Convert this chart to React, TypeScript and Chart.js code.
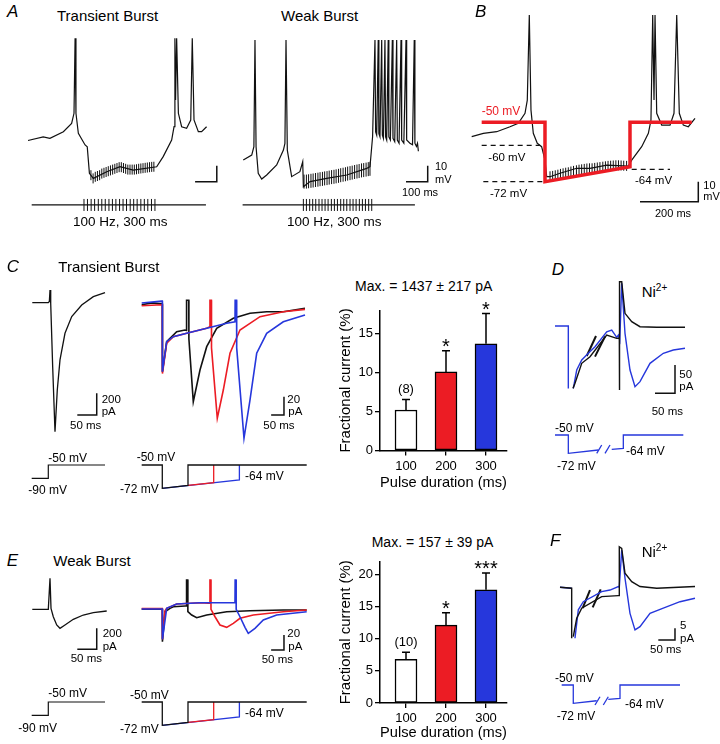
import React, { useEffect, useRef } from "react";
import { Chart, registerables } from "chart.js";
Chart.register(...registerables);

const FONT = "'Liberation Sans', Arial, Helvetica, sans-serif";
const BLACK = "#111111";
const RED = "#ec1c24";
const BLUE = "#2637dc";

// ================= Panel A (ms, mV) =================
const A_TB_TRACE = [[0,-60.3],[70,-58],[101,-59],[163,-54.8],[201,-49.6],[212,-43.3],[217,3.6],[221,-43.3],[232,-55.8],[263,-63.1],[273,-64.2],[283,-80.8],[301,-84],[363,-79.8],[424,-76.7],[485,-78.8],[593,-76.7],[623,-70.4],[662,-60],[673,-51.7],[677,3.6],[680,-35],[685,3.6],[693,-43.3],[708,-51.7],[731,-52.7],[750,-47.5],[757,3.6],[765,-47.5],[785,-54.8],[800,-54.8],[823,-51.7]];
const A_TB_ART = [[290,-82],[300,-84],[310,-83],[320,-82.5],[330,-82],[340,-81],[350,-80.5],[360,-80],[370,-79.5],[380,-79],[390,-78.5],[400,-78],[410,-77.5],[420,-77],[430,-77],[440,-77.5],[450,-78],[460,-78.5],[470,-78.5],[480,-78.5],[490,-78.5],[500,-78.3],[510,-78],[520,-77.8],[530,-77.6],[540,-77.4],[550,-77.2],[560,-77],[570,-76.8],[580,-76.7]];
const A_WB_TRACE = [[992,-72.5],[1031,-69.4],[1041,-64.2],[1046,2.5],[1051,-64.2],[1061,-80.8],[1077,-84.4],[1100,-81.9],[1146,-75.6],[1177,-66.3],[1184,-62.1],[1189,2.5],[1195,-66.3],[1215,-82.9],[1253,-79.8],[1266,-73.6],[1269,-89.2],[1300,-86],[1376,-84],[1469,-81.9],[1561,-77.7],[1576,-76.7],[1588,-58],[1599,2.5],[1602,-55],[1607,-57],[1614,2.5],[1617,-56],[1622,-58],[1630,2.5],[1633,-57],[1638,-59],[1645,2.5],[1648,-58],[1653,-60],[1660,2.5],[1663,-58],[1670,-60],[1679,2.5],[1682,-59],[1690,-61],[1699,2.5],[1702,-60],[1710,-62],[1719,2.5],[1722,-60],[1732,-62],[1742,2.5],[1745,-60],[1760,-62],[1772,-63],[1780,2.5],[1783,-62],[1790,-64],[1795,-62],[1799,-67]];
const A_WB_ART = [[1272,-86],[1283,-86],[1293,-85.8],[1304,-85.5],[1314,-85.3],[1325,-85],[1336,-84.8],[1346,-84.5],[1357,-84.3],[1367,-84],[1378,-83.8],[1388,-83.5],[1399,-83.2],[1410,-83],[1420,-82.7],[1431,-82.4],[1441,-82],[1452,-81.7],[1463,-81.4],[1473,-81],[1484,-80.7],[1494,-80.4],[1505,-80],[1516,-79.7],[1526,-79.4],[1537,-79],[1547,-78.8],[1558,-78.5],[1568,-78.2],[1576,-78]];
const A_STIM_LEVEL = -100.6;
const A_TB_STIM_SPAN = [17, 820];
const A_WB_STIM_SPAN = [989, 1783];
const A_TB_PULSES = [258,274,291,307,324,340,356,373,389,405,422,438,454,471,487,503,520,536,552,569,585];
const A_WB_PULSES = [1269,1283,1298,1312,1326,1341,1355,1369,1383,1398,1412,1426,1441,1455,1469,1484,1498,1512,1527,1541,1555,1570,1584];
const A_SCALE_L = [[770,-86.1],[870,-86.1],[870,-76.1]];
const A_SCALE_R = [[1742,-86.1],[1842,-86.1],[1842,-76.1]];

// ================= Panel B (ms, mV) =================
const B_TRACE = [[5.9,-57.2],[46,-55.5],[92,-54.7],[138,-52.2],[166.6,-50.5],[189.7,-45.5],[197.6,-38.9],[204.5,3.6],[210.3,-43.9],[218.3,-55.5],[232,-60.5],[247,-62.2],[258.6,-68.9],[264.5,-77.2],[275.9,-77.2],[310.3,-75.5],[368,-73],[413.8,-73],[471.4,-71.4],[545.9,-71.9],[557.6,-68.9],[592,-62.2],[615,-55.5],[624,-48.9],[630,3.6],[634.5,-38.9],[638,3.6],[643.8,-45.5],[661,-51.4],[689.7,-51.4],[703.4,-45.5],[712.8,3.6],[721.7,-45.5],[735.5,-51.4],[752.8,-52.2],[775.9,-48]];
const B_ART = [[276,-77],[285,-76.8],[294,-76.5],[303,-76.2],[312,-75.8],[321,-75.5],[330,-75.2],[339,-75],[348,-74.6],[357,-74.3],[367,-74],[376,-73.7],[385,-73.5],[394,-73.3],[403,-73.1],[412,-73],[421,-73],[430,-72.8],[439,-72.6],[448,-72.4],[458,-72.2],[467,-72],[476,-71.8],[485,-71.7],[494,-71.6],[503,-71.5],[512,-71.5],[521,-71.6],[530,-71.7],[540,-71.8]];
const B_COMMAND = [[40.3,-50],[258.6,-50],[258.6,-79.7],[551.7,-72.2],[551.7,-50],[764.5,-50]];
const B_DASH_60 = [[40.3,-61.5],[241.4,-61.5]];
const B_DASH_72 = [[46,-79.7],[253,-79.7]];
const B_DASH_64 = [[557.6,-73.5],[689.7,-73.5]];
const B_SCALE = [[586.2,-89.7],[787.2,-89.7],[787.2,-79.7]];

// ================= Panel C (ms, pA) =================
const C_LEFT = [[5.9,-6],[47.3,-6],[50,5],[51.7,110],[53.5,-12],[58.6,-597],[64.6,-1197],[70.5,-812],[77.5,-535],[90.4,-289],[107.8,-135],[133.6,-28],[163.6,49],[193.8,86]];
const C_LEFT_SCALE = [[122.2,-1043],[172.4,-1043],[172.4,-843]];
const C_MID_BLACK = [[-80.2,-3],[-40,-1],[-2.3,-2],[0,-2],[0.5,-76],[17.1,-43.3],[56,-32.4],[88.3,-30.5],[94,-31],[94.5,2],[103,2],[103.5,-40],[120.6,-108.7],[146.7,-74.2],[172.8,-48.7],[211.7,-28.7],[276.3,-17.8],[341.2,-12.3],[406.2,-10.6],[470.8,-10.6],[555.3,-6.9]];
const C_MID_RED = [[-80.2,-4],[-2.3,-3],[0,-3],[0.5,-78],[17.1,-45],[42.8,-37.8],[94.9,-34],[172.8,-28.7],[185,-27],[185.5,2],[191,2],[191.5,-50],[214,-126.8],[237.4,-96],[263.4,-55.9],[302.3,-30.5],[380.2,-16],[470.8,-10.6],[555.3,-8]];
const C_MID_BLUE = [[-80.2,-1],[-2.3,1],[0,1],[0.5,-76],[17.1,-43.3],[42.8,-37.8],[94.9,-34.1],[172.8,-28.7],[250.6,-23.2],[282.9,-21.5],[283.5,2],[289,2],[289.5,-50],[317.9,-148.6],[341.2,-106.9],[367.3,-55.9],[406.2,-34.1],[470.8,-21.5],[555.3,-14.2]];
const C_MID_SCALE = [[423.5,-123.3],[473.5,-123.3],[473.5,-103.3]];

// Voltage protocols (ms, mV)
const P_STEP = [[4.4,-90],[47.3,-90],[47.3,-50],[193.8,-50]];
const P_RAMP_BLACK = [[-80.2,-50],[0,-50],[0,-72],[100,-69.3],[100,-50],[561.9,-50]];
const P_RAMP_RED = [[100,-69.3],[200,-66.7],[200,-50]];
const P_RAMP_BLUE = [[0,-72],[300,-64],[300,-50]];

// ================= Panel D (ms, pA) =================
const D_BLUE_A = [[0,0],[33.3,0],[33.3,-110]];
const D_BLUE_B = [[45.8,-110],[54.3,-77.6],[66.8,-60],[83.3,-48.1],[100,-36.5],[129.3,-10.1],[141.8,-7.1],[154.3,-19.9],[158.3,-15.9],[162,-25],[166.8,75.3],[175,-12.9],[187.5,-77.6],[200,-107],[212.5,-98.2],[237.5,-65.8],[270.8,-48.1],[295.8,-42.3],[325,-39.3]];
const D_BLACK = [[45,-110],[50,-101],[66.8,-65.8],[87.5,-54.1],[129.3,-15.9],[154.3,-21.7],[160.8,-21.2],[160.8,-112.9],[161.8,78.1],[166.8,78],[175,22.4],[191.8,7.6],[212.5,-1.2],[254.3,-2.3],[325,-2.3]];
const D_BREAK_1 = [[79.3,-52.9],[102.5,-17.6]];
const D_BREAK_2 = [[100,-54],[125,-18.6]];
const D_SCALE = [[250,-118.8],[300,-118.8],[300,-68.8]];
const D_PROT_A = [[0,-50],[33.3,-50],[33.3,-72],[108.3,-68]];
const D_PROT_B = [[141.8,-67.2],[170.8,-66],[170.8,-50],[320.8,-50]];
const D_PROT_BRK1 = [[104.3,-72],[116.8,-62]];
const D_PROT_BRK2 = [[125,-72],[137.5,-62]];

// ================= Panel E (ms, pA) =================
const E_LEFT = [[5.9,0],[47.3,0],[51.7,295],[54.3,9.5],[60.2,-70.5],[69,-149.5],[77.5,-181],[90.4,-149.5],[111.9,-95.2],[137.7,-54.3],[163.6,-32.4],[198.2,-16.2]];
const E_LEFT_SCALE = [[122.2,-381],[172.4,-381],[172.4,-181]];
const E_MID_BLACK = [[-80.2,0],[-2,0],[0,0],[0.5,-43.2],[10.5,-3.2],[30,1.3],[42.8,3.5],[88.3,4.4],[94,4.4],[94.5,39.1],[99,39.1],[99.5,-3],[114.4,-7.6],[133.9,-11.2],[172.8,-7.6],[250.6,-3.2],[341.2,-1.9],[470.8,-0.9],[561.9,-0.9]];
const E_MID_RED = [[-80.2,1],[0,1],[0.5,-40],[10.5,-2],[17.1,1.3],[56,7.1],[146.7,8.8],[179,8],[185,8],[185.5,39.1],[189,39.1],[189.5,0],[205.1,-9.9],[224.5,-20.9],[250.6,-24],[276.3,-18.7],[302.3,-12],[354.1,-7.6],[470.8,-3.2],[561.9,-0.9]];
const E_MID_BLUE = [[-80.2,0.5],[0,0.5],[0.5,-40],[17.1,1.3],[56,7.1],[146.7,8.8],[276.3,8.8],[282.9,8.8],[283.5,39.1],[287,39.1],[287.5,0],[302.3,-9.9],[321.8,-24],[334.6,-32],[360.7,-25.3],[393,-14.3],[445.1,-7.6],[561.9,-3.2]];
const E_MID_SCALE = [[423.5,-54.3],[473.5,-54.3],[473.5,-34.3]];

// ================= Panel F (ms, pA) =================
const F_BLUE_A = [[0,0],[35.1,-0.4]];
const F_BLUE_B = [[45,-21.9],[55,-9.7],[70,-6.2],[125.2,-1.9],[150.2,-1.2],[175.1,0.3],[178.1,0],[185.3,16],[195.2,3.9],[210.2,-11.2],[225.2,-18.3],[240.2,-16.9],[270.3,-11.2],[310.2,-9],[360.4,-6.2],[405.4,-4.7]];
const F_BLACK_A = [[0,0],[35.1,-0.4],[35.1,-21.9]];
const F_BLACK_B = [[39.9,-21.2],[50.2,-13.3],[65.2,-9],[125.2,-4],[175.1,-3.6],[178.1,-3.6],[178.1,17.4],[185.3,16.7],[195.2,6],[215.3,2.4],[240.2,0.3],[290.4,-0.4],[405.4,0.3]];
const F_BREAK_1 = [[68,-9],[90.1,-1.2]];
const F_BREAK_2 = [[98.2,-8.6],[122.2,-0.9]];
const F_SCALE = [[295.2,-22.6],[345.3,-22.6],[345.3,-17.6]];
const F_PROT_A = [[5.1,-50],[39.9,-50],[39.9,-72],[110.2,-68.9]];
const F_PROT_B = [[145,-67.2],[180.2,-66],[180.2,-50],[360.4,-50]];
const F_PROT_BRK1 = [[105.1,-74],[120.1,-64.1]];
const F_PROT_BRK2 = [[130,-74],[145,-64.1]];

// ================= Bar charts =================
const DURATIONS = [100, 200, 300];
const BAR_COLORS = ["#ffffff", RED, BLUE];
const C_MEANS = [5.2, 10.1, 13.7];
const C_SEM = [1.35, 2.7, 3.9];
const C_STARS = ["", "*", "*"];
const C_N = "(8)";
const C_YTICKS = [0, 5, 10, 15];
const E_MEANS = [6.8, 12.1, 17.6];
const E_SEM = [1.1, 1.95, 2.6];
const E_STARS = ["", "*", "***"];
const E_N = "(10)";
const E_YTICKS = [0, 5, 10, 15, 20];

type Set = { d: number[][]; c?: string; w?: number; dash?: number[]; tick?: number };

function Trace({ box, xr, yr, sets }: { box: number[]; xr: number[]; yr: number[]; sets: Set[] }) {
  const ref = useRef<HTMLCanvasElement>(null);
  useEffect(() => {
    const chart = new Chart(ref.current!, {
      type: "line",
      data: {
        datasets: sets.map((s) => ({
          data: s.d.map(([x, y]) => ({ x, y })),
          borderColor: s.c ?? BLACK,
          backgroundColor: s.c ?? BLACK,
          borderWidth: s.w ?? 1,
          borderDash: s.dash ?? [],
          showLine: !s.tick,
          pointRadius: s.tick ?? 0,
          pointHoverRadius: 0,
          pointStyle: "line",
          pointRotation: 90,
          pointBorderWidth: s.tick ? (s.w ?? 1) : 0,
          pointBorderColor: s.c ?? BLACK,
          tension: 0,
          fill: false,
          clip: 0,
        })) as any,
      },
      options: {
        animation: false,
        responsive: false,
        maintainAspectRatio: false,
        events: [],
        layout: { padding: 0, autoPadding: false },
        plugins: { legend: { display: false }, tooltip: { enabled: false }, title: { display: false } },
        scales: {
          x: { type: "linear", display: false, min: xr[0], max: xr[1] },
          y: { type: "linear", display: false, min: yr[0], max: yr[1] },
        },
      } as any,
    });
    return () => chart.destroy();
  }, []);
  return (
    <canvas
      ref={ref}
      width={box[2]}
      height={box[3]}
      style={{ position: "absolute", left: box[0], top: box[1], width: box[2], height: box[3] }}
    />
  );
}

function Bars({ box, padTop, xH, ymax, yticks, means, sems, stars, n }: { box: number[]; padTop: number; xH: number; ymax: number; yticks: number[]; means: number[]; sems: number[]; stars: string[]; n: string }) {
  const ref = useRef<HTMLCanvasElement>(null);
  useEffect(() => {
    const errPlugin = {
      id: "errbars",
      afterDatasetsDraw(chart: any) {
        const { ctx, scales } = chart;
        const x = scales.x, y = scales.y;
        ctx.save();
        ctx.strokeStyle = "#000";
        ctx.fillStyle = "#000";
        ctx.lineWidth = 1.5;
        ctx.textAlign = "center";
        ctx.textBaseline = "alphabetic";
        DURATIONS.forEach((d, i) => {
          const px = x.getPixelForValue(d);
          const y0 = y.getPixelForValue(means[i]);
          const y1 = y.getPixelForValue(means[i] + sems[i]);
          ctx.beginPath();
          ctx.moveTo(px, y0);
          ctx.lineTo(px, y1);
          ctx.moveTo(px - 4, y1);
          ctx.lineTo(px + 4, y1);
          ctx.stroke();
          if (stars[i]) {
            ctx.font = `20px ${FONT}`;
            ctx.fillText(stars[i], px, y1 + 2);
          }
          if (i === 0) {
            ctx.font = `13px ${FONT}`;
            ctx.fillText(n, px, y1 - 6.5);
          }
        });
        ctx.restore();
      },
    };
    const axisGrid = { display: true, drawOnChartArea: false, drawTicks: true, tickLength: 5, color: "#000", lineWidth: 1.3, offset: false };
    const chart = new Chart(ref.current!, {
      type: "bar",
      data: {
        datasets: [
          {
            data: DURATIONS.map((d, i) => ({ x: d, y: means[i] })),
            backgroundColor: BAR_COLORS,
            borderColor: "#000",
            borderWidth: 1.5,
            borderSkipped: false,
            barThickness: 22,
          },
        ] as any,
      },
      options: {
        animation: false,
        responsive: false,
        maintainAspectRatio: false,
        events: [],
        layout: { padding: { top: padTop, right: 3, left: 0, bottom: 0 }, autoPadding: false },
        plugins: { legend: { display: false }, tooltip: { enabled: false } },
        scales: {
          x: {
            type: "linear",
            offset: false,
            min: 35,
            max: 352.5,
            afterBuildTicks: (axis: any) => {
              axis.ticks = DURATIONS.map((v) => ({ value: v }));
            },
            afterFit: (axis: any) => {
              axis.height = xH;
            },
            ticks: { color: "#000", font: { family: FONT, size: 13 }, padding: 3, maxRotation: 0, callback: (v: any) => String(v) },
            grid: axisGrid,
            border: { display: true, color: "#000", width: 1.5 },
            title: { display: true, text: "Pulse duration (ms)", color: "#000", font: { family: FONT, size: 15 }, padding: { top: 0, bottom: xH > 42 ? 4 : 0 } },
          },
          y: {
            type: "linear",
            min: 0,
            max: ymax,
            ticks: { color: "#000", font: { family: FONT, size: 13 }, padding: 2, callback: (v: any) => String(v) },
            afterBuildTicks: (axis: any) => {
              axis.ticks = yticks.map((v) => ({ value: v }));
            },
            afterFit: (axis: any) => {
              axis.width = 47;
            },
            grid: axisGrid,
            border: { display: true, color: "#000", width: 1.5 },
            title: { display: true, text: "Fractional current (%)", color: "#000", font: { family: FONT, size: 15 }, padding: { top: 4, bottom: 0 } },
          },
        },
      } as any,
      plugins: [errPlugin],
    });
    return () => chart.destroy();
  }, []);
  return (
    <canvas
      ref={ref}
      width={box[2]}
      height={box[3]}
      style={{ position: "absolute", left: box[0], top: box[1], width: box[2], height: box[3] }}
    />
  );
}

function L({ x, y, t, s = 12, c = "#000", i = false }: { x: number; y: number; t: React.ReactNode; s?: number; c?: string; i?: boolean }) {
  return (
    <div
      style={{
        position: "absolute",
        left: x,
        top: y - s * 0.5,
        fontSize: s,
        lineHeight: 1,
        color: c,
        fontStyle: i ? "italic" : "normal",
        whiteSpace: "nowrap",
        fontFamily: FONT,
      }}
    >
      {t}
    </div>
  );
}

const Ni = (
  <span>
    Ni<span style={{ fontSize: 10, position: "relative", top: -6 }}>2+</span>
  </span>
);

const pulses = (ts: number[]) => ts.map((t) => [t, A_STIM_LEVEL]);

export default function App() {
  const protStep = [{ d: P_STEP, w: 1.2 }];
  const protRamp = [
    { d: P_RAMP_BLACK, w: 1.3 },
    { d: P_RAMP_RED, c: RED, w: 1.3 },
    { d: P_RAMP_BLUE, c: BLUE, w: 1.3 },
  ];
  return (
    <div style={{ position: "absolute", left: 0, top: 0, width: 720, height: 744, background: "#fff", overflow: "hidden", fontFamily: FONT }}>
      {/* Panel A */}
      <Trace
        box={[20, 30, 425, 190]}
        xr={[-36.9, 1921.7]}
        yr={[-110, 8.75]}
        sets={[
          { d: A_TB_TRACE, w: 1.2 },
          { d: A_TB_ART, tick: 5 },
          { d: A_WB_TRACE, w: 1.2 },
          { d: A_WB_ART, tick: 7 },
          { d: A_TB_STIM_SPAN.map((t) => [t, A_STIM_LEVEL]), w: 1.2 },
          { d: A_WB_STIM_SPAN.map((t) => [t, A_STIM_LEVEL]), w: 1.2 },
          { d: pulses(A_TB_PULSES), tick: 6 },
          { d: pulses(A_WB_PULSES), tick: 6 },
          { d: A_SCALE_L, w: 1.5 },
          { d: A_SCALE_R, w: 1.5 },
        ]}
      />
      <L x={7} y={11.5} s={17} i t="A" />
      <L x={57} y={15.3} s={15} t="Transient Burst" />
      <L x={281} y={15.3} s={15} t="Weak Burst" />
      <L x={73} y={221.3} s={13.5} t="100 Hz, 300 ms" />
      <L x={287} y={221.3} s={13.5} t="100 Hz, 300 ms" />
      <L x={435} y={166} s={11} t="10" />
      <L x={435} y={179} s={11} t="mV" />
      <L x={402} y={192.7} s={11} t="100 ms" />

      {/* Panel B */}
      <Trace
        box={[465, 10, 240, 200]}
        xr={[-17.2, 810.3]}
        yr={[-93.85, 6.15]}
        sets={[
          { d: B_COMMAND, c: RED, w: 3.5 },
          { d: B_TRACE, w: 1.2 },
          { d: B_ART, tick: 5 },
          { d: B_DASH_60, w: 1.3, dash: [5, 4] },
          { d: B_DASH_72, w: 1.3, dash: [5, 4] },
          { d: B_DASH_64, w: 1.3, dash: [5, 4] },
          { d: B_SCALE, w: 1.5 },
        ]}
      />
      <L x={475} y={11.3} s={17} i t="B" />
      <L x={481.7} y={110.8} s={12} c={RED} t="-50 mV" />
      <L x={488.3} y={157.5} s={11.5} t="-60 mV" />
      <L x={490} y={194} s={11.5} t="-72 mV" />
      <L x={635} y={180.3} s={11.5} t="-64 mV" />
      <L x={703.3} y={185} s={11} t="10" />
      <L x={703.3} y={196.7} s={11} t="mV" />
      <L x={655} y={213.3} s={11} t="200 ms" />

      {/* Panel C */}
      <L x={6.7} y={266.7} s={17} i t="C" />
      <L x={58.3} y={266.7} s={15} t="Transient Burst" />
      <Trace box={[25, 280, 90, 160]} xr={[-12.9, 219.6]} yr={[-1274, 203]} sets={[{ d: C_LEFT, w: 1.3 }, { d: C_LEFT_SCALE, w: 1.5 }]} />
      <L x={101.7} y={400} s={11.5} t="200" />
      <L x={101.7} y={412} s={11.5} t="pA" />
      <L x={70} y={425.8} s={11.5} t="50 ms" />
      <Trace
        box={[135, 290, 180, 160]}
        xr={[-106.2, 594.2]}
        yr={[-161.4, 13.1]}
        sets={[
          { d: C_MID_BLUE, c: BLUE, w: 1.6 },
          { d: C_MID_RED, c: RED, w: 1.6 },
          { d: C_MID_BLACK, w: 1.6 },
          { d: C_MID_SCALE, w: 1.5 },
        ]}
      />
      <L x={287.3} y={400} s={11.5} t="20" />
      <L x={288.3} y={412} s={11.5} t="pA" />
      <L x={263.3} y={425.8} s={11.5} t="50 ms" />
      <Trace box={[25, 455, 90, 30]} xr={[-12.9, 219.6]} yr={[-110.2, -19.9]} sets={protStep} />
      <Trace box={[135, 458, 180, 36]} xr={[-106.2, 594.2]} yr={[-77.4, -43.4]} sets={protRamp} />
      <L x={48.3} y={458.3} t="-50 mV" />
      <L x={28.3} y={490} t="-90 mV" />
      <L x={136.7} y={457.3} t="-50 mV" />
      <L x={120} y={489} t="-72 mV" />
      <L x={245} y={476} t="-64 mV" />
      <L x={355} y={285.8} s={14} t="Max. = 1437 ± 217 pA" />
      <Bars box={[333, 290, 177, 206]} padTop={20.4} xH={45.5} ymax={18} yticks={C_YTICKS} means={C_MEANS} sems={C_SEM} stars={C_STARS} n={C_N} />

      {/* Panel D */}
      <L x={551.7} y={269.5} s={17} i t="D" />
      <L x={641.7} y={291.7} s={15} t={Ni} />
      <Trace
        box={[550, 275, 140, 125]}
        xr={[-12.5, 337.5]}
        yr={[-130.5, 90]}
        sets={[
          { d: D_BLACK, w: 1.4 },
          { d: D_BLUE_A, c: BLUE, w: 1.4 },
          { d: D_BLUE_B, c: BLUE, w: 1.4 },
          { d: D_BREAK_1, w: 2 },
          { d: D_BREAK_2, w: 2 },
          { d: D_SCALE, w: 1.5 },
        ]}
      />
      <L x={679.3} y={375} s={11.5} t="50" />
      <L x={679.3} y={386.7} s={11.5} t="pA" />
      <L x={651.7} y={412} s={11.5} t="50 ms" />
      <Trace
        box={[550, 428, 140, 32]}
        xr={[-12.5, 337.5]}
        yr={[-80, -41.6]}
        sets={[
          { d: D_PROT_A, c: BLUE, w: 1.3 },
          { d: D_PROT_B, c: BLUE, w: 1.3 },
          { d: D_PROT_BRK1, c: BLUE, w: 1.3 },
          { d: D_PROT_BRK2, c: BLUE, w: 1.3 },
        ]}
      />
      <L x={555} y={427.8} t="-50 mV" />
      <L x={626} y={451} t="-64 mV" />
      <L x={557} y={466} t="-72 mV" />

      {/* Panel E */}
      <L x={6.7} y={560.3} s={17} i t="E" />
      <L x={53.3} y={560} s={15} t="Weak Burst" />
      <Trace box={[25, 570, 90, 85]} xr={[-12.9, 219.6]} yr={[-435.2, 374.3]} sets={[{ d: E_LEFT, w: 1.3 }, { d: E_LEFT_SCALE, w: 1.5 }]} />
      <L x={102.7} y={634.2} s={11.5} t="200" />
      <L x={102.7} y={647} s={11.5} t="pA" />
      <L x={70.7} y={658.3} s={11.5} t="50 ms" />
      <Trace
        box={[135, 570, 180, 85]}
        xr={[-106.2, 594.2]}
        yr={[-60.9, 52.4]}
        sets={[
          { d: E_MID_BLUE, c: BLUE, w: 1.6 },
          { d: E_MID_RED, c: RED, w: 1.6 },
          { d: E_MID_BLACK, w: 1.6 },
          { d: E_MID_SCALE, w: 1.5 },
        ]}
      />
      <L x={287.3} y={634.2} s={11.5} t="20" />
      <L x={288.3} y={647} s={11.5} t="pA" />
      <L x={261.7} y={659.7} s={11.5} t="50 ms" />
      <Trace box={[25, 691.7, 90, 30]} xr={[-12.9, 219.6]} yr={[-110.2, -19.9]} sets={protStep} />
      <Trace box={[135, 694.7, 180, 36]} xr={[-106.2, 594.2]} yr={[-77.4, -43.4]} sets={protRamp} />
      <L x={48.3} y={693} t="-50 mV" />
      <L x={18.3} y={727.8} t="-90 mV" />
      <L x={130} y={694.5} t="-50 mV" />
      <L x={120} y={729} t="-72 mV" />
      <L x={245} y={713.3} t="-64 mV" />
      <L x={371.7} y={541.7} s={14} t="Max. = 157 ± 39 pA" />
      <Bars box={[333, 530, 177, 212]} padTop={31.5} xH={39} ymax={22} yticks={E_YTICKS} means={E_MEANS} sems={E_SEM} stars={E_STARS} n={E_N} />

      {/* Panel F */}
      <L x={550} y={540} s={17} i t="F" />
      <L x={641.7} y={551.7} s={15} t={Ni} />
      <Trace
        box={[550, 540, 150, 105]}
        xr={[-30, 420.4]}
        yr={[-24.8, 20.3]}
        sets={[
          { d: F_BLACK_A, w: 1.4 },
          { d: F_BLACK_B, w: 1.4 },
          { d: F_BLUE_A, c: BLUE, w: 1.4 },
          { d: F_BLUE_B, c: BLUE, w: 1.4 },
          { d: F_BREAK_1, w: 2 },
          { d: F_BREAK_2, w: 2 },
          { d: F_SCALE, w: 1.5 },
        ]}
      />
      <L x={680} y={626} s={11.5} t="5" />
      <L x={680} y={638.3} s={11.5} t="pA" />
      <L x={650} y={650} s={11.5} t="50 ms" />
      <Trace
        box={[550, 678, 150, 32]}
        xr={[-30, 420.4]}
        yr={[-80, -41.6]}
        sets={[
          { d: F_PROT_A, c: BLUE, w: 1.3 },
          { d: F_PROT_B, c: BLUE, w: 1.3 },
          { d: F_PROT_BRK1, c: BLUE, w: 1.3 },
          { d: F_PROT_BRK2, c: BLUE, w: 1.3 },
        ]}
      />
      <L x={555} y={677.5} t="-50 mV" />
      <L x={625} y={704.2} t="-64 mV" />
      <L x={556.7} y={715.8} t="-72 mV" />
    </div>
  );
}
